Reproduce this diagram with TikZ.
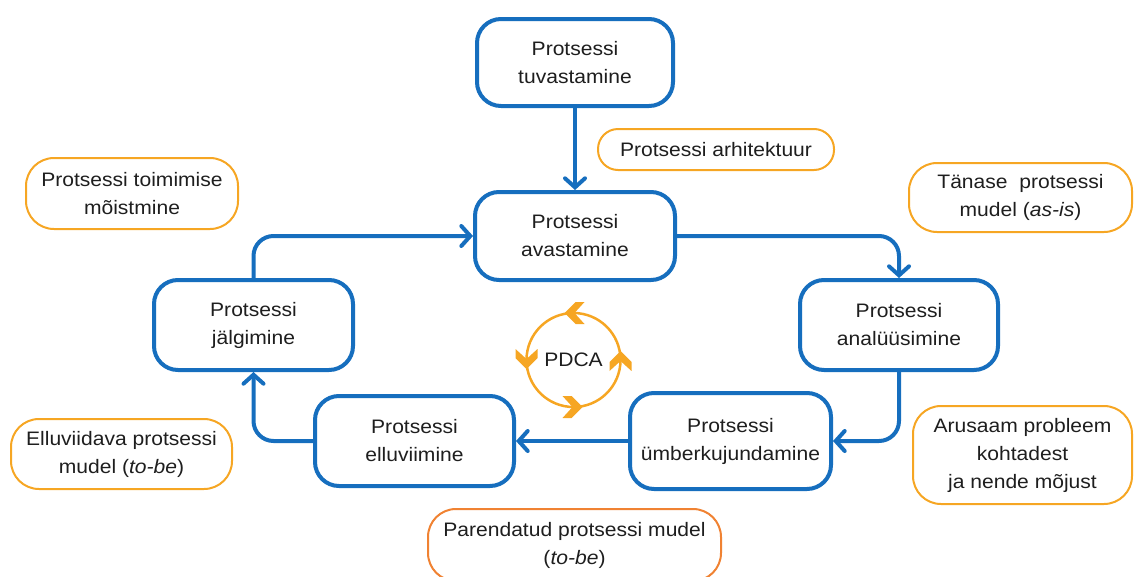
\documentclass[tikz,border=0pt]{standalone}
\usepackage{fontspec}
\setmainfont[FakeStretch=1.08]{Liberation Sans}
\usetikzlibrary{arrows.meta}
\definecolor{pblue}{RGB}{22,110,190}
\definecolor{porange}{RGB}{246,166,35}
\definecolor{porangeb}{RGB}{240,130,50}
\definecolor{ptext}{RGB}{30,30,30}
\begin{document}
\begin{tikzpicture}[x=1pt,y=-1pt,
  every node/.style={font=\fontsize{19.5}{28}\selectfont, text=ptext, align=center, inner sep=0pt},
  bluebox/.style={draw=pblue, line width=4pt, rounded corners=24pt, fill=white},
  orbox/.style={draw=porange, line width=2pt, rounded corners=28pt},
  conn/.style={draw=pblue, line width=4pt, rounded corners=20pt, -{Straight Barb[length=9pt,width=20pt,line cap=round]}},
  chev/.pic={\fill[porange] (9,0) -- (-2,11) -- (-11,11) -- (-1,0) -- (-11,-11) -- (-2,-11) -- cycle;}
]
\useasboundingbox (0,0) rectangle (1135,576);

% process boxes
\node[bluebox, minimum width=196pt, minimum height=87pt] (tuv) at (575,62.5) {Protsessi\\tuvastamine};
\node[bluebox, minimum width=200pt, minimum height=88pt] (ava) at (575,236) {Protsessi\\avastamine};
\node[bluebox, minimum width=199pt, minimum height=90pt] (jal) at (253.5,325) {Protsessi\\jälgimine};
\node[bluebox, minimum width=198pt, minimum height=90pt] (ana) at (899,325) {Protsessi\\analüüsimine};
\node[bluebox, minimum width=199pt, minimum height=90pt] (ell) at (414.5,441) {Protsessi\\elluviimine};
\node[bluebox, minimum width=201pt, minimum height=96pt] (umb) at (730.5,441) {Protsessi\\ümberkujundamine};

% outcome boxes
\node[orbox, minimum width=236pt, minimum height=41pt, rounded corners=20pt] (arh) at (716,149.5) {Protsessi arhitektuur};
\node[orbox, minimum width=212pt, minimum height=71pt] (toim) at (132,193.5) {Protsessi toimimise\\mõistmine};
\node[orbox, minimum width=223pt, minimum height=69pt] (tan) at (1020.5,197.5) {Tänase\ \ protsessi\\mudel (\textit{as-is})};
\node[orbox, minimum width=219pt, minimum height=98pt] (aru) at (1022.5,455) {Arusaam probleem\\kohtadest\\ja nende mõjust};
\node[orbox, minimum width=221pt, minimum height=70pt] (elm) at (121.5,454) {Elluviidava protsessi\\mudel (\textit{to-be})};
\node[orbox, draw=porangeb, minimum width=293pt, minimum height=72pt] (par) at (574.5,545) {Parendatud protsessi mudel\\(\textit{to-be})};

% connectors
\draw[conn] (tuv.south) -- (ava.north);
\draw[conn] (ava.east) -| (ana.north);
\draw[conn] (ana.south) |- (umb.east);
\draw[conn] (umb.west) -- (ell.east);
\draw[conn] (ell.west) -| (jal.south);
\draw[conn] (jal.north) |- (ava.west);

% PDCA cycle
\node (pdca) at (573.5,360) {PDCA};
\draw[porange, line width=2.5pt] (pdca.center) circle[radius=47];
\pic[rotate=180] at (573.5,313) {chev};
\pic[rotate=-90] at (526.5,360) {chev};
\pic at (573.5,407) {chev};
\pic[rotate=90] at (620.5,360) {chev};
\end{tikzpicture}
\end{document}
